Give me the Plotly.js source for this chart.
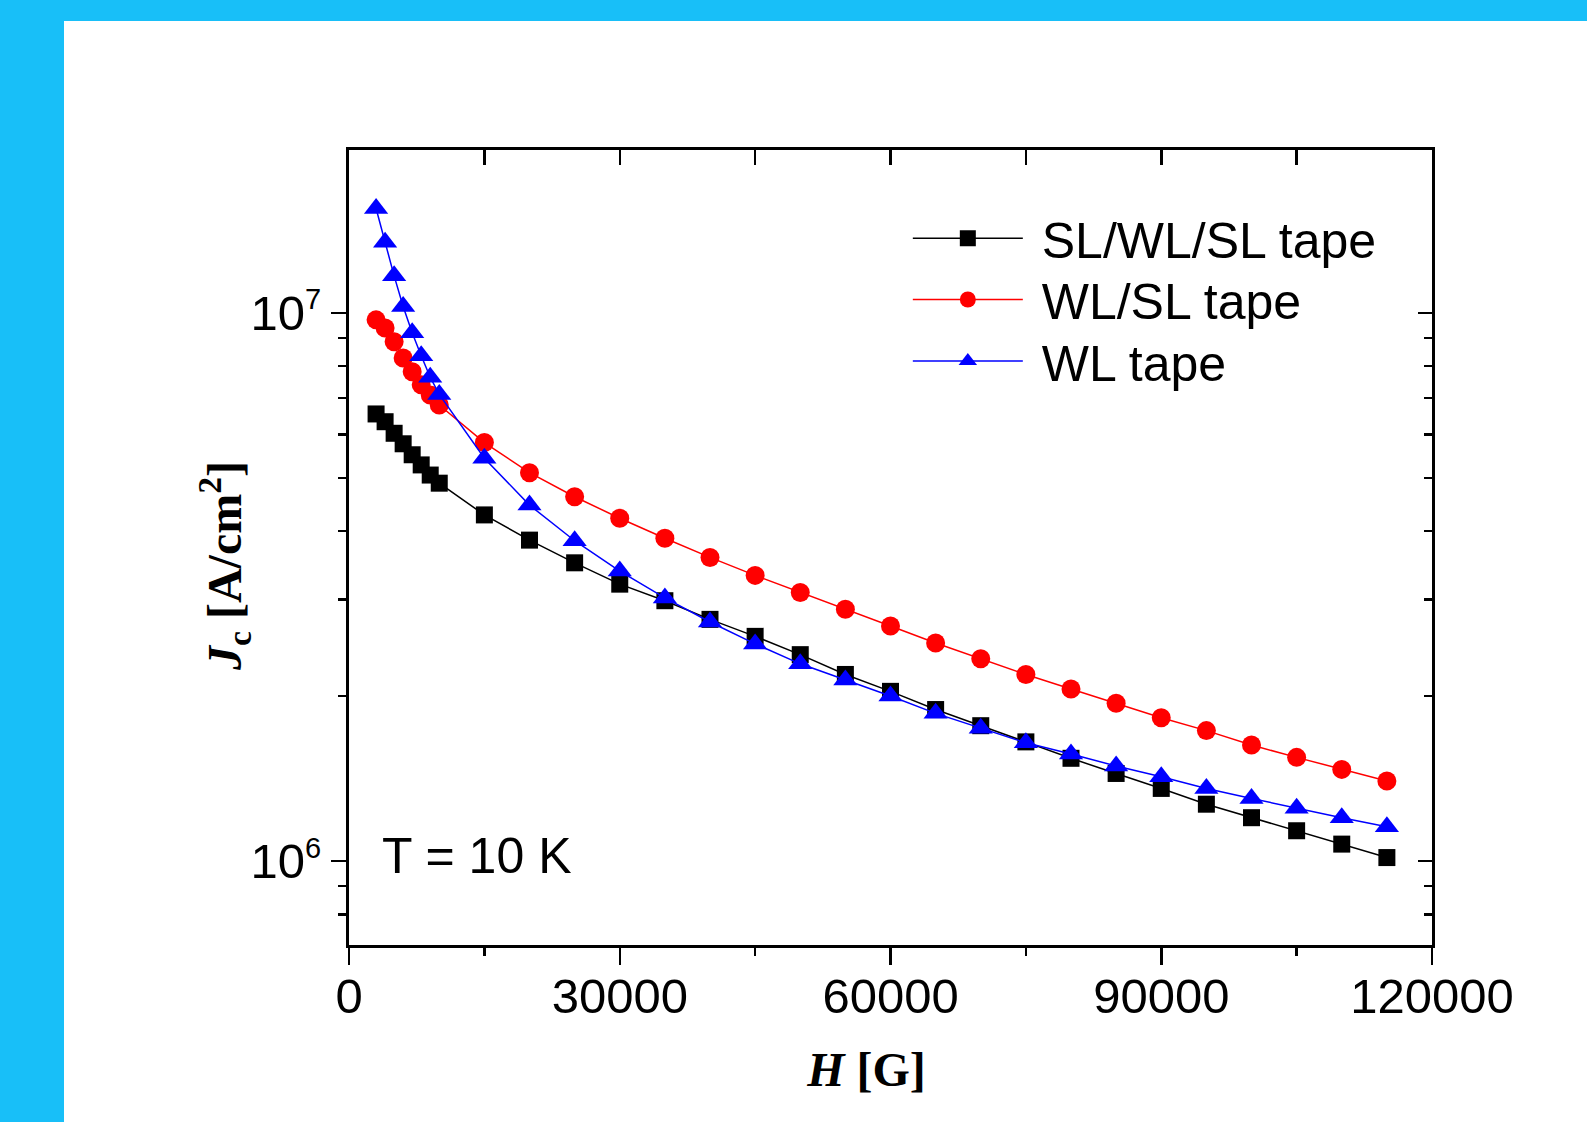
<!DOCTYPE html>
<html><head><meta charset="utf-8">
<script src="https://cdn.plot.ly/plotly-3.0.1.min.js"></script>
<style>
html,body{margin:0;padding:0;width:1587px;height:1122px;overflow:hidden;background:#18BFF8;}
#chart{position:absolute;left:64px;top:21px;width:1523px;height:1101px;background:#ffffff;}
</style></head><body><div id="chart"></div>
<script>
const fieldH = [3000,4000,5000,6000,7000,8000,9000,10000,15000,20000,25000,30000,35000,40000,45000,50000,55000,60000,65000,70000,75000,80000,85000,90000,95000,100000,105000,110000,115000];
const jcSlWlSl = [6.54e6,6.33e6,6.03e6,5.77e6,5.51e6,5.28e6,5.06e6,4.89e6,4.28e6,3.85e6,3.50e6,3.20e6,2.985e6,2.76e6,2.57e6,2.38e6,2.19e6,2.04e6,1.89e6,1.766e6,1.65e6,1.54e6,1.445e6,1.357e6,1.27e6,1.20e6,1.136e6,1.074e6,1.015e6];
const jcWlSl = [9.71e6,9.38e6,8.86e6,8.27e6,7.81e6,7.39e6,7.08e6,6.79e6,5.80e6,5.11e6,4.62e6,4.22e6,3.88e6,3.58e6,3.32e6,3.09e6,2.88e6,2.685e6,2.50e6,2.34e6,2.19e6,2.06e6,1.94e6,1.826e6,1.73e6,1.628e6,1.546e6,1.47e6,1.40e6];
const jcWl = [1.55e7,1.345e7,1.168e7,1.027e7,9.2e6,8.35e6,7.63e6,7.1e6,5.43e6,4.46e6,3.84e6,3.38e6,3.02e6,2.73e6,2.49e6,2.29e6,2.14e6,2.0e6,1.86e6,1.747e6,1.644e6,1.568e6,1.491e6,1.425e6,1.357e6,1.301e6,1.249e6,1.20e6,1.155e6];
const seriesNames = ['SL/WL/SL tape','WL/SL tape','WL tape'];
const xTickVals = [0,30000,60000,90000,120000];
const xTickText = ['0','30000','60000','90000','120000'];
const yTickVals = [1e6,1e7];
const yTickText = ['10<sup><span style="font-size:29px">6</span></sup>','10<sup><span style="font-size:29px">7</span></sup>'];
const yMinorVals = [8e5,9e5,2e6,3e6,4e6,5e6,6e6,7e6,8e6,9e6];
const xRange = [0,120000];
const yRangeLog = [5.847,7.297];

const sansFont = 'Liberation Sans, Arial, sans-serif';
const serifFont = 'Liberation Serif, Times New Roman, serif';

const traces = [
  {x: fieldH, y: jcSlWlSl, name: '&nbsp;' + seriesNames[0], legend: 'legend', mode: 'lines+markers', type: 'scatter',
   line: {color: '#000000', width: 1.5}, marker: {symbol: 'square', size: 17, color: '#000000', line: {width: 0}}},
  {x: fieldH, y: jcWlSl, name: '&nbsp;' + seriesNames[1], legend: 'legend2', mode: 'lines+markers', type: 'scatter',
   line: {color: '#FF0000', width: 1.5}, marker: {symbol: 'circle', size: 19, color: '#FF0000', line: {width: 0}}},
  {x: fieldH, y: jcWl, name: '&nbsp;' + seriesNames[2], legend: 'legend3', mode: 'lines+markers', type: 'scatter',
   line: {color: '#0000FF', width: 1.5}, marker: {symbol: 'triangle-up', size: 21, color: '#0000FF', line: {width: 0}}},
  {x: [], y: [], xaxis: 'x2', yaxis: 'y2', showlegend: false, hoverinfo: 'skip', type: 'scatter', mode: 'markers'}
];

function legendAt(yPos) {
  return {
    x: 0.516, y: yPos, xanchor: 'left', yanchor: 'top',
    bgcolor: 'rgba(0,0,0,0)', borderwidth: 0,
    font: {family: sansFont, size: 50, color: '#000'},
    itemwidth: 110
  };
}

const layout = {
  width: 1523, height: 1101,
  margin: {l: 285, r: 155, t: 129, b: 177, pad: 0},
  paper_bgcolor: '#ffffff', plot_bgcolor: '#ffffff',
  showlegend: true,
  font: {family: sansFont, color: '#000000'},
  xaxis: {
    range: xRange, showgrid: false, zeroline: false,
    showline: true, linecolor: '#000', linewidth: 3,
    ticks: 'outside', ticklen: 17, tickwidth: 2.5, tickcolor: '#000',
    tickmode: 'array', tickvals: xTickVals, ticktext: xTickText,
    ticklabelstandoff: -11,
    tickfont: {family: sansFont, size: 49, color: '#000'},
    minor: {ticks: 'outside', ticklen: 8, tickwidth: 2.5, tickcolor: '#000', dtick: 15000, showgrid: false},
    title: {text: '<i>H</i> [G]&nbsp;&nbsp;&nbsp;&nbsp;', standoff: 31, font: {family: serifFont, size: 48, color: '#000', weight: 'bold'}}
  },
  yaxis: {
    type: 'log', range: yRangeLog, showgrid: false, zeroline: false,
    showline: true, linecolor: '#000', linewidth: 3,
    ticks: 'outside', ticklen: 15, tickwidth: 2.5, tickcolor: '#000',
    tickmode: 'array', tickvals: yTickVals, ticktext: yTickText,
    tickfont: {family: sansFont, size: 49, color: '#000'},
    minor: {ticks: 'outside', ticklen: 8, tickwidth: 2.5, tickcolor: '#000', tickmode: 'array', tickvals: yMinorVals, showgrid: false},
    title: {text: '<i>J</i><sub>c</sub> [A/cm<sup>2</sup>]&nbsp;&nbsp;&nbsp;', font: {family: serifFont, size: 48, color: '#000', weight: 'bold'}}
  },
  xaxis2: {
    overlaying: 'x', side: 'top', anchor: 'y2', range: xRange, showgrid: false, zeroline: false,
    showline: true, linecolor: '#000', linewidth: 3,
    ticks: 'inside', ticklen: 15, tickwidth: 2.5, tickcolor: '#000',
    dtick: 15000, tick0: 0, showticklabels: false
  },
  yaxis2: {
    overlaying: 'y', side: 'right', anchor: 'x2', type: 'log', range: yRangeLog, showgrid: false, zeroline: false,
    showline: true, linecolor: '#000', linewidth: 3,
    ticks: 'inside', ticklen: 14, tickwidth: 2.5, tickcolor: '#000',
    tickmode: 'array', tickvals: yTickVals, showticklabels: false,
    minor: {ticks: 'inside', ticklen: 8, tickwidth: 2.5, tickcolor: '#000', tickmode: 'array', tickvals: yMinorVals, showgrid: false}
  },
  legend: legendAt(0.938),
  legend2: legendAt(0.861),
  legend3: legendAt(0.7835),
  annotations: [{
    xref: 'paper', yref: 'paper', x: 0.029, y: 0.112, xanchor: 'left', yanchor: 'middle',
    text: 'T = 10 K', showarrow: false, font: {family: sansFont, size: 50, color: '#000'}
  }]
};

Plotly.newPlot('chart', traces, layout, {displayModeBar: false, staticPlot: true});
</script></body></html>
